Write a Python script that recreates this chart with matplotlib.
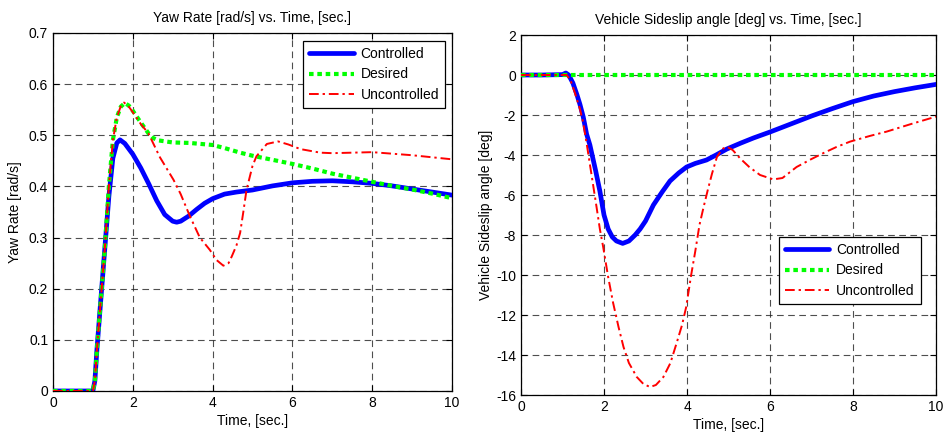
import matplotlib
matplotlib.use("Agg")
import matplotlib.pyplot as plt

plt.rcParams["font.family"] = ["Liberation Sans", "DejaVu Sans"]
plt.rcParams["font.size"] = 10
plt.rcParams["axes.unicode_minus"] = False

# Yaw rate [rad/s]
yaw_t_ctrl = [0, 0.5, 1.0, 1.05, 1.1, 1.2, 1.3, 1.4, 1.5, 1.6, 1.68, 1.8, 2.0, 2.2, 2.4,
              2.6, 2.8, 3.0, 3.1, 3.2, 3.4, 3.6, 3.8, 4.0, 4.3, 4.6, 5.0, 5.5, 6.0, 6.5,
              7.0, 7.5, 8.0, 8.5, 9.0, 9.5, 10]
yaw_ctrl = [0, 0, 0, 0.02, 0.08, 0.18, 0.28, 0.38, 0.455, 0.485, 0.491, 0.484, 0.463, 0.436,
            0.405, 0.372, 0.345, 0.332, 0.330, 0.332, 0.342, 0.355, 0.367, 0.376, 0.385,
            0.389, 0.393, 0.401, 0.407, 0.410, 0.411, 0.409, 0.406, 0.401, 0.395, 0.389, 0.383]

yaw_t_des = [0, 0.5, 1.0, 1.05, 1.1, 1.2, 1.3, 1.4, 1.5, 1.6, 1.7, 1.8, 1.9, 2.0, 2.2, 2.4,
             2.5, 2.64, 3.0, 3.43, 4.0, 4.3, 4.69, 5.0, 5.69, 6.0, 6.5, 7.0, 7.5, 8.0, 8.5,
             9.0, 9.5, 10]
yaw_des = [0, 0, 0, 0.02, 0.08, 0.18, 0.28, 0.40, 0.49, 0.535, 0.556, 0.563, 0.558, 0.548,
           0.525, 0.503, 0.495, 0.490, 0.486, 0.485, 0.481, 0.475, 0.466, 0.460, 0.449,
           0.444, 0.435, 0.425, 0.417, 0.409, 0.401, 0.394, 0.386, 0.377]

yaw_t_unc = [0, 0.5, 1.0, 1.05, 1.1, 1.2, 1.3, 1.4, 1.5, 1.6, 1.7, 1.78, 1.9, 2.0, 2.2, 2.39,
             2.68, 3.02, 3.2, 3.43, 3.68, 3.93, 4.1, 4.27, 4.4, 4.48, 4.6, 4.69, 4.77, 4.85,
             5.0, 5.1, 5.36, 5.64, 5.9, 6.2, 6.7, 7.0, 7.5, 8.0, 8.5, 9.0, 9.5, 10]
yaw_unc = [0, 0, 0, 0.02, 0.08, 0.18, 0.28, 0.40, 0.49, 0.535, 0.557, 0.564, 0.556, 0.545,
           0.522, 0.504, 0.457, 0.413, 0.385, 0.342, 0.300, 0.276, 0.256, 0.245, 0.250,
           0.263, 0.285, 0.309, 0.350, 0.393, 0.440, 0.459, 0.483, 0.488, 0.482, 0.473,
           0.466, 0.465, 0.466, 0.467, 0.464, 0.461, 0.457, 0.453]

# Vehicle sideslip angle [deg]
slip_t_ctrl = [0, 0.5, 1.0, 1.08, 1.15, 1.25, 1.35, 1.42, 1.5, 1.58, 1.66, 1.8, 1.9, 2.0,
               2.1, 2.2, 2.3, 2.45, 2.6, 2.75, 2.87, 3.0, 3.19, 3.4, 3.59, 3.8, 3.99, 4.2,
               4.47, 4.7, 4.96, 5.3, 5.6, 6.0, 6.5, 7.0, 7.5, 8.0, 8.5, 9.0, 9.5, 10]
slip_ctrl = [0, 0, 0.02, 0.1, 0, -0.4, -1.0, -1.47, -2.1, -2.95, -3.5, -4.8, -5.8, -7.0,
             -7.7, -8.1, -8.3, -8.42, -8.3, -8.0, -7.7, -7.3, -6.5, -5.85, -5.3, -4.9,
             -4.6, -4.42, -4.25, -4.0, -3.7, -3.4, -3.15, -2.85, -2.45, -2.05, -1.68,
             -1.33, -1.05, -0.83, -0.64, -0.47]

slip_t_des = [0, 10]
slip_des = [0, 0]

slip_t_unc = [0, 0.5, 1.0, 1.1, 1.2, 1.3, 1.42, 1.5, 1.58, 1.7, 1.82, 1.9, 1.98, 2.1, 2.22,
              2.35, 2.47, 2.6, 2.79, 2.95, 3.11, 3.25, 3.43, 3.6, 3.75, 3.88, 3.98, 4.1,
              4.2, 4.3, 4.4, 4.5, 4.6, 4.72, 4.85, 4.96, 5.1, 5.28, 5.5, 5.76, 6.08, 6.3,
              6.64, 7.0, 7.29, 7.6, 7.93, 8.4, 8.81, 9.4, 10]
slip_unc = [0, 0, 0, 0, -0.3, -0.9, -1.7, -2.4, -3.4, -5.0, -6.6, -7.7, -8.6, -10.1, -11.4,
            -12.6, -13.6, -14.4, -15.1, -15.45, -15.6, -15.5, -15.1, -14.4, -13.4, -12.5,
            -11.6, -10.0, -8.8, -7.5, -6.6, -5.75, -4.95, -4.1, -3.7, -3.58, -3.75, -4.17,
            -4.6, -5.0, -5.22, -5.15, -4.6, -4.2, -3.9, -3.6, -3.33, -3.05, -2.83, -2.45,
            -2.08]

labels = ["Controlled", "Desired", "Uncontrolled"]


def style_axes(ax):
    ax.grid(True, color="#222222", linestyle=(0, (6, 4)), linewidth=0.8, alpha=0.8)
    ax.tick_params(direction="in", top=True, right=True, length=4, width=0.8,
                   labelsize=10, colors="black")
    for spine in ax.spines.values():
        spine.set_linewidth(0.9)
    ax.set_xlim(0, 10)
    ax.set_xticks([0, 2, 4, 6, 8, 10])
    ax.set_xlabel("Time, [sec.]", fontsize=10, labelpad=3)


def draw(ax, t_ctrl, ctrl, t_des, des, t_unc, unc):
    ax.plot(t_ctrl, ctrl, color="#0000ff", linewidth=3.4, label=labels[0],
            solid_capstyle="round", zorder=3)
    ax.plot(t_des, des, color="#00ff00", linewidth=3.0, linestyle=(0, (1.1, 0.9)),
            dash_capstyle="butt", label=labels[1], zorder=4)
    ax.plot(t_unc, unc, color="#ff0000", linewidth=1.4, linestyle=(0, (5, 2, 1.2, 2)),
            label=labels[2], zorder=5)


fig = plt.figure(figsize=(9.43, 4.37), dpi=100)

ax1 = fig.add_axes([0.0562, 0.1053, 0.4231, 0.8192])
draw(ax1, yaw_t_ctrl, yaw_ctrl, yaw_t_des, yaw_des, yaw_t_unc, yaw_unc)
style_axes(ax1)
ax1.set_ylim(0, 0.7)
ax1.set_yticks([0, 0.1, 0.2, 0.3, 0.4, 0.5, 0.6, 0.7])
ax1.set_yticklabels(["0", "0.1", "0.2", "0.3", "0.4", "0.5", "0.6", "0.7"])
ax1.set_ylabel("Yaw Rate [rad/s]", fontsize=10, labelpad=5)
ax1.set_title("Yaw Rate [rad/s] vs. Time, [sec.]", fontsize=10, pad=8)
leg1 = ax1.legend(loc="upper right", bbox_to_anchor=(0.983, 0.978), borderaxespad=0,
                  fancybox=False, edgecolor="black", framealpha=1, fontsize=10,
                  handlelength=3.2, handletextpad=0.5, labelspacing=0.45,
                  borderpad=0.45)
leg1.get_frame().set_linewidth(0.9)

ax2 = fig.add_axes([0.5525, 0.0961, 0.4401, 0.8238])
draw(ax2, slip_t_ctrl, slip_ctrl, slip_t_des, slip_des, slip_t_unc, slip_unc)
style_axes(ax2)
ax2.set_ylim(-16, 2)
ax2.set_yticks(list(range(-16, 3, 2)))
ax2.set_ylabel("Vehicle Sideslip angle [deg]", fontsize=10, labelpad=2)
ax2.set_title("Vehicle Sideslip angle [deg] vs. Time, [sec.]", fontsize=10, pad=8)
leg2 = ax2.legend(loc="upper right", bbox_to_anchor=(0.964, 0.439), borderaxespad=0,
                  fancybox=False, edgecolor="black", framealpha=1, fontsize=10,
                  handlelength=3.2, handletextpad=0.5, labelspacing=0.45,
                  borderpad=0.45)
leg2.get_frame().set_linewidth(0.9)

fig.savefig("out.png", dpi=100)
